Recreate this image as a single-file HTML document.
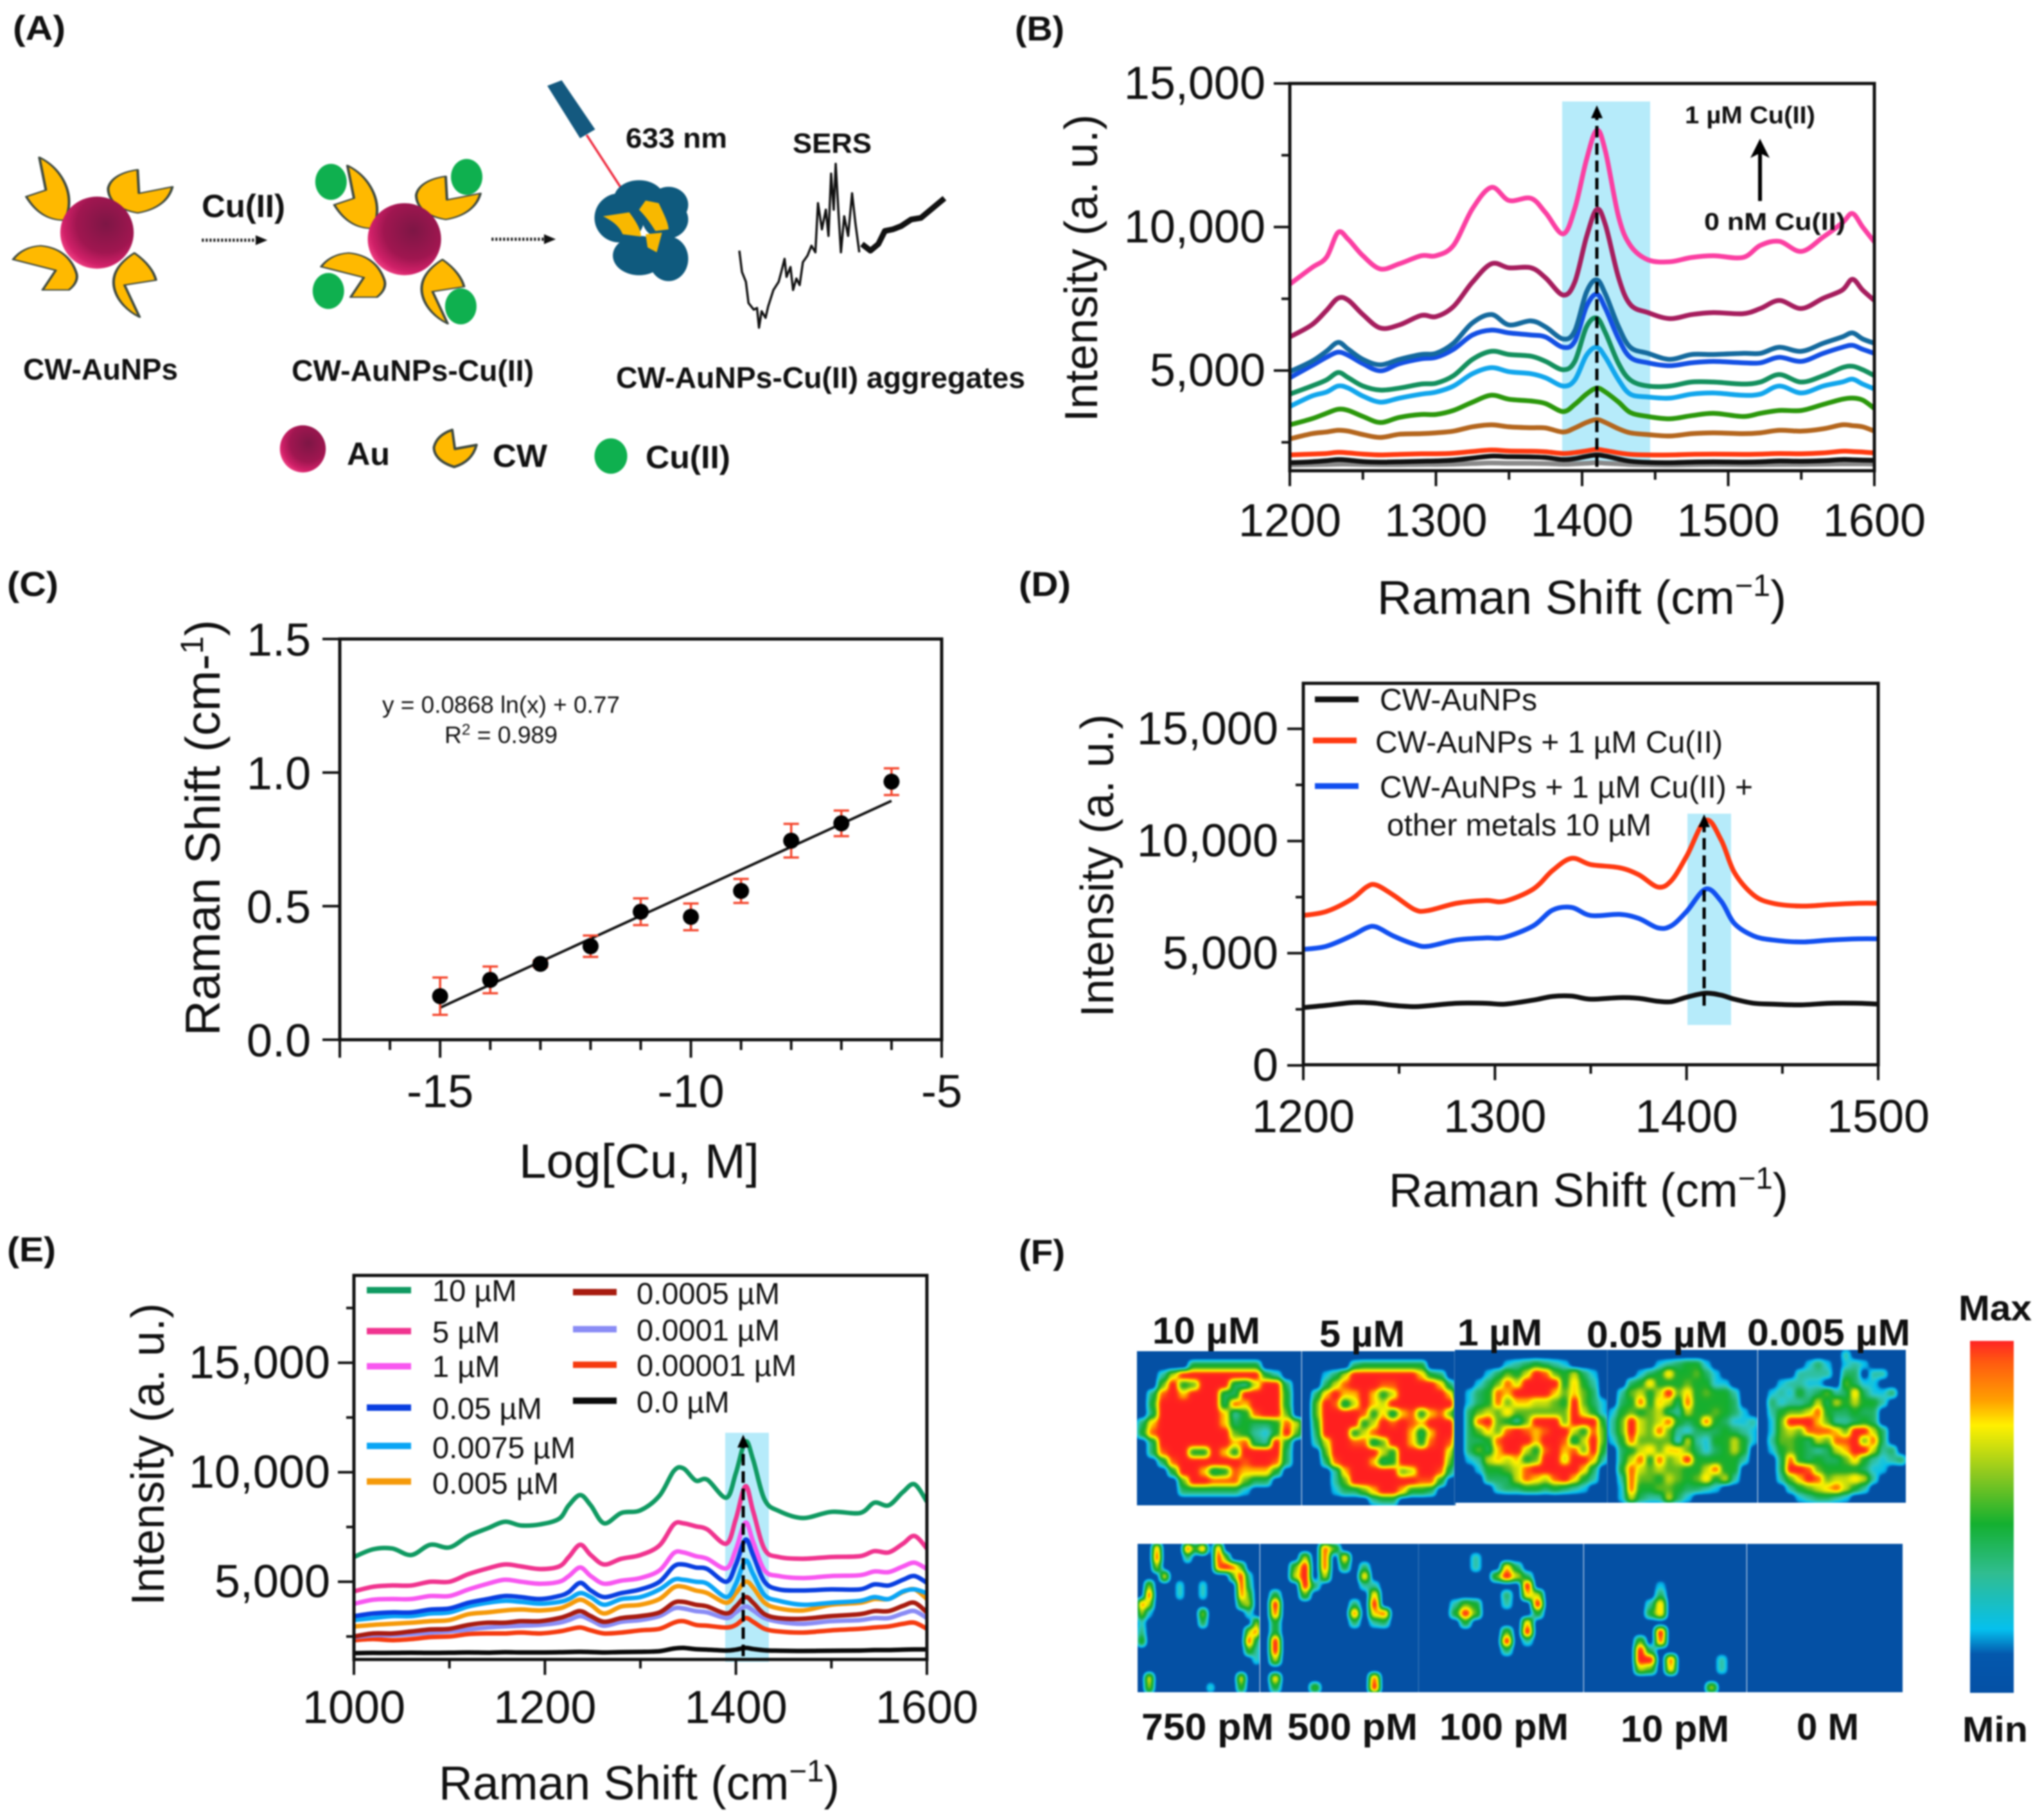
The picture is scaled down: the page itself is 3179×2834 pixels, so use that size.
<!DOCTYPE html>
<html lang="en">
<head>
<meta charset="utf-8">
<title>CW-AuNPs SERS detection of Cu(II)</title>
<style>
html,body{margin:0;padding:0;background:#fff;width:3179px;height:2834px;overflow:hidden}
svg{display:block;filter:blur(1.4px)}
text{font-family:"Liberation Sans",sans-serif;fill:#111}
.b{font-weight:bold}
.nss{vector-effect:non-scaling-stroke}
</style>
</head>
<body>
<svg id="fig" xmlns="http://www.w3.org/2000/svg" width="3179" height="2834" viewBox="0 0 3179 2834">
<defs>
<radialGradient id="au-grad" cx="0.62" cy="0.38" r="0.72">
<stop offset="0" stop-color="#7d1645"/><stop offset="0.55" stop-color="#a01650"/><stop offset="0.8" stop-color="#d02068"/><stop offset="1" stop-color="#ff4f90"/>
</radialGradient>
<linearGradient id="bar-grad" x1="0" y1="0" x2="0" y2="1">
<stop offset="0" stop-color="#ff2424"/><stop offset="0.06" stop-color="#ff5a10"/><stop offset="0.17" stop-color="#ffa000"/><stop offset="0.24" stop-color="#fff000"/>
<stop offset="0.38" stop-color="#8cc820"/><stop offset="0.52" stop-color="#14b030"/><stop offset="0.66" stop-color="#30bd90"/><stop offset="0.82" stop-color="#05c0ee"/><stop offset="0.89" stop-color="#0458ad"/><stop offset="1" stop-color="#0450a5"/>
</linearGradient>
<filter id="heat-filter" x="0" y="0" width="1" height="1" color-interpolation-filters="sRGB">
<feGaussianBlur stdDeviation="4.4"/>
<feComponentTransfer>
<feFuncR id="heat-r" type="table" tableValues="0 1"/>
<feFuncG id="heat-g" type="table" tableValues="0 1"/>
<feFuncB id="heat-b" type="table" tableValues="0 1"/>
</feComponentTransfer>
</filter>
<marker id="tip" viewBox="0 0 10 10" refX="8" refY="5" markerWidth="5" markerHeight="5" orient="auto"><path d="M0 0L10 5L0 10L2.5 5Z" fill="#000"/></marker>
<path id="pac-a" d="M60 480C90 510 108 570 105 630C104 650 100 665 97 672C70 672 52 640 40 600L70 580Z"/>
<path id="pac-b" d="M210 518L212 590L263 570C258 610 240 640 210 650C180 640 165 610 165 575C168 545 185 525 210 518Z"/>
<path id="pac-c" d="M20 792C30 765 45 752 62 750C90 755 108 785 116 830C120 850 115 870 105 885L65 885L85 825Z"/>
<path id="pac-d" d="M205 772C225 800 235 830 238 855L190 870L213 968C195 950 180 920 175 885C170 850 175 810 205 772Z"/>
</defs>

<!-- Panel A schematic -->
<g id="panel-a">
<g transform="scale(1.0204,0.5102)" stroke-linejoin="round">
<g fill="#ffb900" stroke="#3f4a40" stroke-width="4">
<use href="#pac-a" class="nss"/><use href="#pac-b"/><use href="#pac-c"/><use href="#pac-d"/>
<ellipse cx="148" cy="710" rx="56" ry="110" fill="url(#au-grad)" stroke="none"/>
</g>
<g fill="#ffb900" stroke="#3f4a40" stroke-width="4">
<g transform="translate(470,25)"><use href="#pac-a"/></g>
<g transform="translate(470,20)"><use href="#pac-b"/></g>
<g transform="translate(470,22)"><use href="#pac-c"/></g>
<g transform="translate(470,20)"><use href="#pac-d"/></g>
<ellipse cx="617" cy="730" rx="56" ry="110" fill="url(#au-grad)" stroke="none"/>
<g fill="#0fb04f" stroke="none">
<ellipse cx="505" cy="555" rx="24" ry="55"/><ellipse cx="712" cy="540" rx="24" ry="55"/><ellipse cx="501" cy="888" rx="24" ry="55"/><ellipse cx="703" cy="935" rx="24" ry="55"/>
</g>
</g>
<path class="nss" d="M308 733H395" stroke="#111" stroke-width="5" stroke-dasharray="3 3" fill="none"/>
<path d="M390 718L408 733L390 748Z" fill="#111"/>
<path class="nss" d="M750 730H835" stroke="#111" stroke-width="5" stroke-dasharray="3 3" fill="none"/>
<path d="M830 715L848 730L830 745Z" fill="#111"/>
<polygon points="835,262 857,245 908,395 885,422" fill="#14597f"/>
<path class="nss" d="M895 412L948 575" stroke="#ee2b3f" stroke-width="3.5" fill="none"/>
<g fill="#0f5a7e">
<ellipse cx="975" cy="605" rx="38" ry="55"/><ellipse cx="1020" cy="625" rx="30" ry="55"/><ellipse cx="945" cy="665" rx="38" ry="75"/><ellipse cx="1015" cy="670" rx="35" ry="60"/><ellipse cx="975" cy="780" rx="40" ry="60"/><ellipse cx="1020" cy="790" rx="30" ry="68"/>
<path d="M985 612L1005 620C1012 650 1020 680 1020 700L1000 705C992 680 985 660 975 640Z" fill="#f8b800"/>
<path d="M920 660L960 648C970 675 978 700 978 722L950 715C945 690 935 675 920 660Z" fill="#f8b800"/>
<path d="M985 715L1010 710L1002 770L988 755Z" fill="#f8b800"/>
</g>
<polyline class="nss" fill="none" stroke="#111" stroke-width="3.5" points="1128,765 1132,830 1138,860 1142,925 1150,945 1155,940 1158,1000 1162,950 1168,970 1172,935 1180,885 1188,860 1192,830 1197,790 1200,845 1206,815 1210,885 1215,850 1220,870 1225,800 1232,780 1238,750 1244,770 1248,620 1254,700 1260,640 1264,720 1268,530 1272,640 1275,500 1279,640 1283,770 1288,660 1294,720 1300,590 1305,680 1311,770"/>
<polyline class="nss" fill="none" stroke="#111" stroke-width="9" stroke-linejoin="round" points="1315,745 1328,765 1340,745 1350,705 1362,700 1375,690 1390,670 1405,665 1420,640 1441,605"/>
<ellipse cx="462" cy="1370" rx="35" ry="72" fill="url(#au-grad)"/>
<g fill="#ffb900" stroke="#3f4a40" stroke-width="4"><path class="nss" d="M690 1312L694 1370L727 1358C722 1395 710 1415 693 1425C672 1412 662 1390 662 1365C665 1340 675 1322 690 1312Z"/></g>
<ellipse cx="932" cy="1392" rx="25" ry="54" fill="#0fb04f"/>
</g>
<text class="b" x="20" y="62" font-size="54" textLength="82" lengthAdjust="spacingAndGlyphs">(A)</text>
<text class="b" x="314" y="338" font-size="50" fill="#222" textLength="130" lengthAdjust="spacingAndGlyphs">Cu(II)</text>
<text class="b" x="974" y="230" font-size="44" textLength="158" lengthAdjust="spacingAndGlyphs">633 nm</text>
<text class="b" x="1234" y="238" font-size="44" textLength="123" lengthAdjust="spacingAndGlyphs">SERS</text>
<text class="b" x="36" y="591" font-size="46" textLength="241" lengthAdjust="spacingAndGlyphs">CW-AuNPs</text>
<text class="b" x="454" y="593" font-size="46" textLength="377" lengthAdjust="spacingAndGlyphs">CW-AuNPs-Cu(II)</text>
<text class="b" x="959" y="604" font-size="46" textLength="637" lengthAdjust="spacingAndGlyphs">CW-AuNPs-Cu(II) aggregates</text>
<text class="b" x="540" y="724" font-size="50" textLength="67" lengthAdjust="spacingAndGlyphs">Au</text>
<text class="b" x="767" y="727" font-size="50" textLength="85" lengthAdjust="spacingAndGlyphs">CW</text>
<text class="b" x="1005" y="729" font-size="50" textLength="132" lengthAdjust="spacingAndGlyphs">Cu(II)</text>
</g>

<!-- Panel labels and titles -->
<text class="b" x="1580" y="63" font-size="54" textLength="77" lengthAdjust="spacingAndGlyphs">(B)</text>
<text class="b" x="11" y="928" font-size="54" textLength="80" lengthAdjust="spacingAndGlyphs">(C)</text>
<text class="b" x="1586" y="928" font-size="54" textLength="81" lengthAdjust="spacingAndGlyphs">(D)</text>
<text class="b" x="11" y="1964" font-size="54" textLength="76" lengthAdjust="spacingAndGlyphs">(E)</text>
<text class="b" x="1586" y="1968" font-size="54" textLength="72" lengthAdjust="spacingAndGlyphs">(F)</text>

<text transform="translate(1708,657) rotate(-90)" font-size="72" textLength="479" lengthAdjust="spacingAndGlyphs">Intensity (a. u.)</text>
<text x="2144" y="956" font-size="74" textLength="637" lengthAdjust="spacingAndGlyphs">Raman Shift (cm<tspan dy="-28" font-size="48">−1</tspan><tspan dy="28">)</tspan></text>
<text transform="translate(342,1613) rotate(-90)" font-size="76" textLength="648" lengthAdjust="spacingAndGlyphs">Raman  Shift (cm-<tspan dy="-26" font-size="50">1</tspan><tspan dy="26">)</tspan></text>
<text x="808" y="1834" font-size="75" textLength="374" lengthAdjust="spacingAndGlyphs">Log[Cu, M]</text>
<text x="595" y="1110" font-size="37" fill="#333" textLength="370" lengthAdjust="spacingAndGlyphs">y = 0.0868 ln(x) + 0.77</text>
<text x="692" y="1157" font-size="37" fill="#333" textLength="176" lengthAdjust="spacingAndGlyphs">R<tspan dy="-13" font-size="24">2</tspan><tspan dy="13"> = 0.989</tspan></text>
<text transform="translate(1733,1584) rotate(-90)" font-size="72" textLength="472" lengthAdjust="spacingAndGlyphs">Intensity (a. u.)</text>
<text x="2162" y="1879" font-size="74" textLength="622" lengthAdjust="spacingAndGlyphs">Raman Shift (cm<tspan dy="-28" font-size="48">−1</tspan><tspan dy="28">)</tspan></text>
<text transform="translate(255,2500) rotate(-90)" font-size="72" textLength="471" lengthAdjust="spacingAndGlyphs">Intensity (a. u.)</text>
<text x="683" y="2802" font-size="74" textLength="624" lengthAdjust="spacingAndGlyphs">Raman Shift (cm<tspan dy="-28" font-size="48">−1</tspan><tspan dy="28">)</tspan></text>

<!-- Panel B annotations -->
<g id="plot-b"></g>
<text class="b" x="2623" y="192" font-size="38" textLength="203" lengthAdjust="spacingAndGlyphs">1 µM Cu(II)</text>
<text class="b" x="2653" y="358" font-size="38" textLength="220" lengthAdjust="spacingAndGlyphs">0  nM Cu(II)</text>
<line x1="2740" y1="313" x2="2740" y2="222" stroke="#000" stroke-width="6" marker-end="url(#tip)"/>

<g id="plot-c"></g>
<g id="plot-d"></g>
<text x="2148" y="1106" font-size="48" fill="#333" textLength="245" lengthAdjust="spacingAndGlyphs">CW-AuNPs</text>
<text x="2141" y="1172" font-size="48" fill="#333" textLength="541" lengthAdjust="spacingAndGlyphs">CW-AuNPs + 1 µM Cu(II)</text>
<text x="2148" y="1242" font-size="48" fill="#333" textLength="581" lengthAdjust="spacingAndGlyphs">CW-AuNPs + 1 µM Cu(II) +</text>
<text x="2159" y="1301" font-size="48" fill="#333" textLength="412" lengthAdjust="spacingAndGlyphs">other metals 10 µM</text>

<g id="plot-e"></g>

<!-- Panel F -->
<g id="plot-f"></g>
<g class="b">
<text class="b" x="1794" y="2092" font-size="58" textLength="168" lengthAdjust="spacingAndGlyphs">10 µM</text>
<text class="b" x="2054" y="2097" font-size="58" textLength="133" lengthAdjust="spacingAndGlyphs">5 µM</text>
<text class="b" x="2269" y="2095" font-size="58" textLength="132" lengthAdjust="spacingAndGlyphs">1 µM</text>
<text class="b" x="2470" y="2098" font-size="58" textLength="220" lengthAdjust="spacingAndGlyphs">0.05 µM</text>
<text class="b" x="2720" y="2095" font-size="58" textLength="254" lengthAdjust="spacingAndGlyphs">0.005 µM</text>
</g>
<g>
<text class="b" x="1777" y="2709" font-size="58" textLength="206" lengthAdjust="spacingAndGlyphs">750 pM</text>
<text class="b" x="2004" y="2709" font-size="58" textLength="203" lengthAdjust="spacingAndGlyphs">500 pM</text>
<text class="b" x="2241" y="2709" font-size="58" textLength="201" lengthAdjust="spacingAndGlyphs">100 pM</text>
<text class="b" x="2523" y="2712" font-size="58" textLength="169" lengthAdjust="spacingAndGlyphs">10 pM</text>
<text class="b" x="2797" y="2709" font-size="58" textLength="97" lengthAdjust="spacingAndGlyphs">0 M</text>
</g>
<rect x="3067" y="2088" width="68" height="548" fill="url(#bar-grad)"/>
<text class="b" x="3049" y="2056" font-size="56" textLength="114" lengthAdjust="spacingAndGlyphs">Max</text>
<text class="b" x="3055" y="2712" font-size="56" textLength="102" lengthAdjust="spacingAndGlyphs">Min</text>
</svg>

<script>
// ===== Panel B data =====
const bX=[1200,1215,1225,1233,1240,1250,1262,1275,1290,1300,1312,1325,1338,1350,1365,1375,1387,1395,1403,1410,1416,1425,1433,1445,1460,1475,1490,1510,1522,1535,1550,1565,1578,1585,1592,1600];
const bPink=[8010,8580,8940,9810,9570,9000,8540,8720,9000,9000,9360,10640,11380,10925,11000,10500,9760,10640,12340,13370,12630,10350,9360,8860,8790,8940,9000,8940,9360,9500,9150,9650,10140,10470,10000,9480];
const bMaroon=[6170,6590,7090,7520,7450,6950,6480,6590,6920,6880,7230,8080,8720,8580,8580,8230,7630,8080,9650,10610,10070,8230,7300,7020,6810,6950,7020,6980,7160,7440,7160,7520,7800,8180,7800,7440];
const bTeal=[4960,5320,5670,5980,5740,5390,5200,5390,5560,5600,5950,6660,6950,6590,6730,6520,6100,6380,7730,8160,7660,6520,5810,5600,5390,5560,5560,5600,5600,5810,5670,5950,6170,6310,6100,5950];
const bBlue=[4750,5170,5460,5640,5530,5240,4990,5240,5410,5460,5740,6240,6410,6310,6240,6170,5810,6020,7230,7660,7160,6100,5460,5270,5170,5270,5320,5270,5270,5460,5320,5600,5810,5880,5740,5600];
const bGreen=[4180,4460,4670,4930,4750,4460,4320,4390,4530,4560,4820,5390,5670,5560,5500,5320,5030,5320,6520,6830,6310,5240,4670,4460,4460,4600,4600,4530,4600,4860,4600,4820,5100,5150,5030,4820];
const bSky=[3750,4110,4250,4460,4390,4110,3900,4040,4180,4250,4460,4890,5100,4960,4890,4750,4460,4670,5530,5810,5460,4670,4180,4080,4040,4180,4220,4140,4180,4460,4220,4460,4600,4700,4530,4360];
const bLeaf=[3110,3320,3510,3650,3610,3400,3190,3370,3470,3470,3610,3900,4140,4000,3940,3850,3570,3820,4180,4390,4250,3900,3540,3400,3320,3430,3510,3400,3510,3610,3610,3820,4000,4040,3970,3680];
const bBrown=[2620,2800,2860,2920,2890,2770,2670,2780,2800,2830,2890,3040,3110,3040,3010,3000,2860,3000,3190,3290,3190,2970,2830,2770,2720,2800,2830,2800,2830,2920,2890,2970,3110,3080,3040,2890];
const bRed=[2060,2090,2110,2150,2130,2090,2060,2080,2100,2100,2120,2180,2230,2200,2190,2170,2110,2140,2200,2250,2210,2130,2080,2060,2060,2080,2090,2080,2090,2110,2100,2130,2190,2180,2160,2130];
const bBlack=[1790,1820,1860,1900,1880,1830,1810,1820,1840,1850,1880,1950,2020,2000,1990,1970,1900,1930,2010,2060,2020,1920,1840,1800,1790,1810,1820,1810,1820,1850,1840,1860,1900,1890,1880,1870];
const bGray=[1710,1720,1730,1740,1740,1730,1720,1720,1730,1730,1740,1760,1780,1770,1770,1760,1740,1750,1770,1790,1770,1750,1730,1720,1710,1720,1730,1720,1720,1730,1730,1740,1750,1750,1750,1740];
const bXTicks=[1200,1300,1400,1500,1600];
const bYTicks=[5000,10000,15000];
const bYTickLabels=['5,000','10,000','15,000'];

// ===== Panel C data =====
const cLog=[-15,-14,-13,-12,-11,-10,-9,-8,-7,-6];
const cShift=[0.163,0.224,0.284,0.35,0.479,0.46,0.557,0.745,0.81,0.966];
const cError=[0.07,0.05,0.012,0.04,0.05,0.05,0.045,0.063,0.048,0.05];
const cFitX=[-15,-6];
const cFitY=[0.12,0.894];
const cXTicks=[-15,-10,-5];
const cYTicks=[0,0.5,1,1.5];
const cYTickLabels=['0.0','0.5','1.0','1.5'];

// ===== Panel D data =====
const dX=[1200,1212,1225,1233,1238,1247,1258,1265,1280,1295,1305,1320,1330,1340,1350,1365,1375,1385,1392,1400,1410,1418,1425,1435,1445,1460,1475,1490,1500];
const dCopper=[6680,6860,7400,7950,8040,7590,6950,6900,7225,7350,7316,7860,8680,9230,8950,8810,8500,7950,8230,9320,10920,10050,8590,7590,7225,7100,7170,7225,7225];
const dMetals=[5170,5310,5770,6130,6170,5770,5400,5310,5590,5680,5710,6220,6920,7040,6680,6730,6550,6130,6220,6860,7860,7320,6320,5770,5590,5500,5590,5640,5640];
const dControl=[2580,2675,2800,2800,2770,2675,2620,2660,2770,2770,2730,2910,3075,3090,2950,3020,2990,2860,2840,3040,3220,3130,2950,2770,2730,2700,2770,2770,2730];
const dXTicks=[1200,1300,1400,1500];
const dYTicks=[0,5000,10000,15000];
const dYTickLabels=['0','5,000','10,000','15,000'];

// ===== Panel E data =====
const eX=[1000,1020,1040,1060,1080,1100,1120,1140,1158,1175,1195,1215,1225,1237,1248,1262,1280,1300,1320,1335,1345,1358,1370,1390,1400,1410,1418,1430,1445,1470,1500,1530,1545,1560,1575,1587,1600];
const e10uM=[6130,6480,6520,6220,6690,6570,7090,7440,7740,7570,7620,7880,8490,8960,8490,7670,8140,8260,8930,10060,10180,9620,9660,8840,9970,11400,10580,8750,8230,7910,8190,8140,8610,8490,9100,9450,8660];
const e5uM=[4560,4770,4830,4830,5000,5000,5350,5610,5790,5700,5580,5700,6130,6690,6220,5790,6050,6220,6660,7620,7670,7530,7390,6740,7880,9360,8230,6480,6130,6050,6130,6170,6400,6340,6740,7090,6520];
const e1uM=[3990,4180,4210,4210,4350,4350,4650,4910,5090,5000,4910,5000,5260,5650,5260,4910,5050,5170,5520,6310,6340,6170,6050,5610,6480,7700,6830,5520,5260,5170,5260,5300,5470,5440,5700,5870,5580];
const e005uM=[3430,3550,3600,3600,3730,3780,4040,4210,4350,4300,4210,4350,4530,4950,4600,4300,4480,4650,5000,5700,5790,5650,5580,5000,5790,6920,6220,5000,4650,4600,4650,4650,4880,4830,5090,5260,4950];
const e00075uM=[3250,3340,3430,3430,3550,3600,3870,4040,4130,4080,4000,4080,4210,4480,4300,3950,4210,4300,4650,5090,5090,5000,4910,4300,4910,5960,5350,4390,4130,3950,4040,4130,4300,4210,4560,4650,4480];
const e0005uM=[2960,3030,3080,3130,3200,3250,3520,3600,3690,3730,3690,3780,3950,4180,3950,3550,3870,3950,4210,4740,4770,4600,4480,4040,4480,5000,4740,4040,3780,3690,3950,4040,4210,4210,4530,4650,4210];
const e00005uM=[2500,2640,2640,2730,2820,2850,3030,3130,3130,3200,3200,3340,3480,3660,3430,3170,3340,3430,3600,4040,4080,3950,3870,3550,3870,4300,4040,3520,3340,3310,3430,3520,3660,3660,3900,4040,3600];
const e00001uM=[2470,2560,2560,2610,2680,2730,2820,2910,2960,2990,3030,3130,3250,3430,3250,2990,3170,3250,3430,3780,3780,3660,3600,3340,3600,3870,3690,3340,3170,3080,3200,3250,3340,3340,3550,3660,3340];
const e000001uM=[2330,2380,2330,2380,2470,2500,2610,2640,2640,2680,2640,2730,2820,2910,2780,2640,2680,2780,2850,3130,3200,3030,2990,2910,3030,3340,3170,2850,2730,2680,2780,2850,2910,2960,3080,3130,2850];
const e0uM=[1740,1750,1750,1760,1750,1760,1770,1760,1780,1770,1770,1780,1790,1800,1790,1770,1790,1800,1830,1950,1980,1920,1900,1860,1900,1980,1930,1870,1850,1840,1850,1860,1880,1880,1900,1910,1910];
const eXTicks=[1000,1200,1400,1600];
const eYTicks=[5000,10000,15000];
const eYTickLabels=['5,000','10,000','15,000'];
const eLegendLeft=['10 µM','5 µM','1 µM','0.05 µM','0.0075 µM','0.005 µM'];
const eLegendRight=['0.0005 µM','0.0001 µM','0.00001 µM','0.0 µM'];

// ===== Panel F data (intensity level 0-9 per map cell) =====
const heat10uM=["0000000000000000","0000044444440000","0026999999994200","0059459993269930","0389799933999940","0499999938799940","0399999972489950","3799999973433486","4899999995421495","0399999997832940","0389944974999930","0038999999899830","0004997348777400","0000599888533000","0000333333100000","0000000000000000"];
const heat5uM=["0000000000000000","0000034444444000","0013699999997430","0036899988999973","0379779746999997","0598369769999999","0599998473784785","0499994698987999","0399946899973799","0269988359974898","0059999964999996","0038999734999995","0002799999569983","0002599999998840","0001335799744300","0000000233000000"];
const heat1uM=["0000000000000000","0000012343210000","0001354698546310","0013586999947420","0134879999757530","0134857766549531","0356575555559641","0389542599959994","0357589878996485","0334899979983695","0353799648978594","0126767459969972","0014456899999730","0003336876897420","0000233443432100","0000000000000000"];
const heat005uM=["0000000000000000","0000012344100000","0001347445310000","0034744454411000","0256469574544200","0348476384444300","1454563264454310","2596568434843112","2596585213334321","1485555162144641","0346757753134640","0368485694444420","0486565544684400","0285546545746200","0184455433210000","0163226310000000"];
const heat0005uM=["0000000002000000","0000013101210000","0000222203302200","0012211005311000","0121423523731130","0312236364644200","0245568433433000","0159997522343000","0156588875996300","0255436588958300","0145432367996230","0038434335742123","0039985444431100","0025798566762000","0002456786420000","0000123321000000"];
const heat750pM=["0080009480800000","0090003000950000","0060000000898500","0007000000005920","0600020020000930","0900020020000850","8600000000000560","6100000060000020","2000000040000006","3000000000000068","5000000000000093","0000000000000052","0000000000000002","0000000000000000","0700000000000700","0600000002000500"];
const heat500pM=["0000008500000000","0000608070000000","0005908040300000","0006906000700000","0000930000220000","0400500000070000","0900000003090000","0800000008078000","0400000003023000","0400000000000000","0900000000000000","0900000000000000","0600000000000000","0000000000000000","0700000000080000","0400050000090000"];
const heat100pM=["0000000000000000","0000020000000000","0000020073000000","0000000596300000","0000000000900000","0000000030760000","0002540020090000","0004950000040000","0000400000700000","0000000050900000","0000000090200000","0000000030000000","0000000000000000","0000000000000000","0000000000000000","0000000000000000"];
const heat10pM=["0000000000000000","0000000000000000","0000000000000000","0000000000000000","0000000100000000","0000000300000000","0000002700000000","0000004700000000","0000000000000000","0000000900000000","0000050800000000","0000093000000000","0000099080000200","0000065070000200","0000000000000000","0000000000006000"];
const heat0M=["0000000000000000","0000000000000000","0000000000000000","0000000000000000","0000000000000000","0000000000000000","0000000000000000","0000000000000000","0000000000000000","0000000000000000","0000000000000000","0000000000000000","0000000000000000","0000000000000000","0000000000000000","0000000000000000"];

const NS='http://www.w3.org/2000/svg';
function mk(tag,attrs,parent){const el=document.createElementNS(NS,tag);for(const k in attrs)el.setAttribute(k,attrs[k]);parent.appendChild(el);return el;}
function linear(d0,d1,r0,r1){return v=>r0+(v-d0)/(d1-d0)*(r1-r0);}
function smoothPath(pts){let d='M'+pts[0][0].toFixed(1)+' '+pts[0][1].toFixed(1);for(let i=0;i<pts.length-1;i++){const p0=pts[Math.max(0,i-1)],p1=pts[i],p2=pts[i+1],p3=pts[Math.min(pts.length-1,i+2)];const k=1/6;d+='C'+(p1[0]+(p2[0]-p0[0])*k).toFixed(1)+' '+(p1[1]+(p2[1]-p0[1])*k).toFixed(1)+' '+(p2[0]-(p3[0]-p1[0])*k).toFixed(1)+' '+(p2[1]-(p3[1]-p1[1])*k).toFixed(1)+' '+p2[0].toFixed(1)+' '+p2[1].toFixed(1);}return d;}

function frame(p,x0,y0,x1,y1,sw){
  const r=mk('rect',{x:x0,y:y0,width:x1-x0,height:y1-y0,fill:'none',stroke:'#111','stroke-width':sw},p);
  
  
}
function xTick(p,x,y,len){
  const l=mk('line',{x1:x,x2:x,y1:y,y2:y+len,stroke:'#111','stroke-width':4},p);
  
  
}
function yTick(p,x,y,len){
  const l=mk('line',{x1:x-len,x2:x,y1:y,y2:y,stroke:'#111','stroke-width':4},p);
  
  
}
function xLabel(p,x,y,s){
  const t=mk('text',{x:x,y:y,'text-anchor':'middle','font-size':72},p);
  t.textContent=s;
  
  
}
function yLabel(p,x,y,s){
  const t=mk('text',{x:x,y:y,'text-anchor':'end','font-size':72},p);
  t.textContent=s;
  
  
}
function curve(p,xs,ys,sx,sy,color,w,name){
  const pts=xs.map((v,i)=>[sx(v),sy(ys[i])]);
  const c=mk('path',{d:smoothPath(pts),fill:'none',stroke:color,'stroke-width':w,'stroke-linejoin':'round','stroke-linecap':'butt'},p);
  
  
}
function band(p,x,y,w,h){
  const r=mk('rect',{x:x,y:y,width:w,height:h,fill:'#b6ebfa'},p);
  
  
}
function dashedArrow(p,x,y0,y1){
  const l=mk('line',{x1:x,x2:x,y1:y0,y2:y1,stroke:'#000','stroke-width':5,'stroke-dasharray':'18 9'},p);
  
  
  const h=mk('path',{d:'M'+(x-9)+' '+(y1+14)+'L'+x+' '+(y1-6)+'L'+(x+9)+' '+(y1+14)+'Z',fill:'#000'},p);
  
  
}

// ----- Panel B -----
(function(){
  const p=document.getElementById('plot-b');
  const sx=linear(1200,1600,2008,2918), sy=linear(1510,15000,733,130);
  band(p,2432,158,137,566);
  const series=[[bGray,'#8a8a8a','b-series-gray'],[bBlack,'#111','b-series-black'],[bRed,'#ff3a10','b-series-red'],[bBrown,'#b4661e','b-series-brown'],[bLeaf,'#2c980c','b-series-dark-green'],[bSky,'#12a6ec','b-series-sky-blue'],[bGreen,'#14905e','b-series-green'],[bBlue,'#1450e4','b-series-blue'],[bTeal,'#156a9e','b-series-teal'],[bMaroon,'#a61e5e','b-series-maroon'],[bPink,'#fb3fa2','b-series-pink']];
  series.forEach(s=>curve(p,bX,s[0],sx,sy,s[1],7.5,s[2]));
  dashedArrow(p,2486,727,170);
  frame(p,2008,130,2918,733,5);
  for(let v=1200;v<=1600;v+=50)xTick(p,sx(v),733,(v%100===0)?24:14);
  bXTicks.forEach(v=>xLabel(p,sx(v),835,String(v)));
  bYTicks.forEach((v,i)=>{yTick(p,2008,sy(v),25);yLabel(p,1970,sy(v)+24,bYTickLabels[i]);});
  [2500,7500,12500].forEach(v=>yTick(p,2008,sy(v),13));
})();

// ----- Panel C -----
(function(){
  const p=document.getElementById('plot-c');
  const sx=linear(-17,-5,529,1466), sy=linear(0,1.5,1619,995);
  frame(p,529,995,1466,1619,5);
  for(let v=-17;v<=-5;v++)xTick(p,sx(v),1619,(v%5===0||v===-17)?28:16);
  cXTicks.forEach(v=>xLabel(p,sx(v),1724,String(v)));
  cYTicks.forEach((v,i)=>{yTick(p,529,sy(v),27);yLabel(p,484,sy(v)+26,cYTickLabels[i]);});
  const fit=mk('line',{x1:sx(cFitX[0]),y1:sy(cFitY[0]),x2:sx(cFitX[1]),y2:sy(cFitY[1]),stroke:'#111','stroke-width':4},p);
  
  
  cLog.forEach((v,i)=>{
    const x=sx(v),y0=sy(cShift[i]-cError[i]),y1=sy(cShift[i]+cError[i]);
    const e=mk('path',{d:'M'+(x-12)+' '+y0+'H'+(x+12)+'M'+x+' '+y0+'V'+y1+'M'+(x-12)+' '+y1+'H'+(x+12),stroke:'#f4472e','stroke-width':3.5,fill:'none'},p);
    
    
    const d=mk('circle',{cx:x,cy:sy(cShift[i]),r:12.5,fill:'#000'},p);
    
    
  });
})();

// ----- Panel D -----
(function(){
  const p=document.getElementById('plot-d');
  const sx=linear(1200,1500,2029,2924), sy=linear(0,17000,1659,1065);
  band(p,2627,1267,68,329);
  curve(p,dX,dControl,sx,sy,'#111',7.5,'d-series-control');
  curve(p,dX,dMetals,sx,sy,'#1250f0',7.5,'d-series-other-metals');
  curve(p,dX,dCopper,sx,sy,'#ff3a12',7.5,'d-series-copper');
  dashedArrow(p,2653,1566,1274);
  frame(p,2029,1064,2924,1658,5);
  for(let v=1200;v<=1500;v+=50)xTick(p,sx(v),1658,(v%100===0)?24:14);
  dXTicks.forEach(v=>xLabel(p,sx(v),1763,String(v)));
  dYTicks.forEach((v,i)=>{yTick(p,2029,sy(v),25);yLabel(p,1990,sy(v)+24,dYTickLabels[i]);});
  [2500,7500,12500].forEach(v=>yTick(p,2029,sy(v),12));
  const keyColors=['#111','#ff3a12','#1250f0'];
  const keyY=[1089,1153,1224];
  const keyX=[2047,2044,2047];
  keyColors.forEach((c,i)=>{
    const k=mk('line',{x1:keyX[i],x2:keyX[i]+68,y1:keyY[i],y2:keyY[i],stroke:c,'stroke-width':9},p);
    
    
  });
})();

// ----- Panel E -----
(function(){
  const p=document.getElementById('plot-e');
  const sx=linear(1000,1600,551,1443), sy=linear(5000,15000,2463,2122);
  band(p,1129,2231,68,357);
  const colors=['#0a0a0a','#f53b10','#8a8cf5','#a81c10','#f59a0a','#0aa5f5','#0a3fe0','#f857f0','#f0348f','#109a62'];
  const values=[e0uM,e000001uM,e00001uM,e00005uM,e0005uM,e00075uM,e005uM,e1uM,e5uM,e10uM];
  const names=['e-series-0um','e-series-0-00001um','e-series-0-0001um','e-series-0-0005um','e-series-0-005um','e-series-0-0075um','e-series-0-05um','e-series-1um','e-series-5um','e-series-10um'];
  values.forEach((v,i)=>curve(p,eX,v,sx,sy,colors[i],7,names[i]));
  dashedArrow(p,1157,2579,2240);
  frame(p,551,1986,1443,2584,5);
  for(let v=1000;v<=1600;v+=100)xTick(p,sx(v),2584,(v%200===0)?24:14);
  eXTicks.forEach(v=>xLabel(p,sx(v),2683,String(v)));
  eYTicks.forEach((v,i)=>{yTick(p,551,sy(v),25);yLabel(p,514,sy(v)+24,eYTickLabels[i]);});
  [2500,7500,12500,17500].forEach(v=>yTick(p,551,sy(v),12));
  const leftColors=['#109a62','#f0348f','#f857f0','#0a3fe0','#0aa5f5','#f59a0a'];
  const leftLineY=[183,290,382,490,590,683];
  const leftTextY=[185,293,383,493,595,688];
  eLegendLeft.forEach((s,i)=>{
    const l=mk('line',{x1:571,x2:640,y1:1900+leftLineY[i]*0.5957,y2:1900+leftLineY[i]*0.5957,stroke:leftColors[i],'stroke-width':10},p);
    
    
    const t=mk('text',{x:673,y:1900+leftTextY[i]*0.5957+16,'font-size':47,fill:'#333'},p);
    t.textContent=s;
    
    
  });
  const rightColors=['#a81c10','#8a8cf5','#f53b10','#0a0a0a'];
  const rightLineY=[188,285,378,472];
  const rightTextY=[192,288,380,476];
  eLegendRight.forEach((s,i)=>{
    const l=mk('line',{x1:892,x2:960,y1:1900+rightLineY[i]*0.5957,y2:1900+rightLineY[i]*0.5957,stroke:rightColors[i],'stroke-width':10},p);
    
    
    const t=mk('text',{x:991,y:1900+rightTextY[i]*0.5957+16,'font-size':47,fill:'#333'},p);
    t.textContent=s;
    
    
  });
})();

// ----- Panel F -----
(function(){
  const stops=['0450a5','0450a5','0458ad','0598d8','05c0ee','2cc8c8','30c0a0','28b878','1cb050','14b030','28b028','55b820','88c818','b8d810','e0e805','fff000','ffb800','ff8800','ff5510','ff3018','ff2020'];
  const chan=o=>stops.map(h=>(parseInt(h.substr(o,2),16)/255).toFixed(3)).join(' ');
  document.getElementById('heat-r').setAttribute('tableValues',chan(0));
  document.getElementById('heat-g').setAttribute('tableValues',chan(2));
  document.getElementById('heat-b').setAttribute('tableValues',chan(4));
  const levelShade=[0,0.22,0.3,0.38,0.46,0.56,0.67,0.79,0.9,1];
  const p=document.getElementById('plot-f');
  const defs=document.querySelector('defs');
  const maps=[heat10uM,heat5uM,heat1uM,heat005uM,heat0005uM,heat750pM,heat500pM,heat100pM,heat10pM,heat0M];
  const mapNames=['heatmap-10um','heatmap-5um','heatmap-1um','heatmap-0-05um','heatmap-0-005um','heatmap-750pm','heatmap-500pm','heatmap-100pm','heatmap-10pm','heatmap-0m'];
  const lefts=[1770,2027,2265,2503,2737,1771,1962,2209,2466,2720];
  const rights=[2027,2265,2503,2737,2967,1962,2209,2466,2720,2962];
  const tops=[2104,2104,2102,2102,2102,2404,2404,2404,2404,2404];
  const bottoms=[2344,2344,2340,2340,2340,2635,2635,2635,2635,2635];
  maps.forEach((grid,m)=>{
    const x0=lefts[m],x1=rights[m],y0=tops[m],y1=bottoms[m];
    const cw=(x1-x0)/16,ch=(y1-y0)/16;
    const cp=mk('clipPath',{id:'clip-'+m},defs);
    mk('rect',{x:x0,y:y0,width:x1-x0,height:y1-y0},cp);
    const outer=mk('g',{'clip-path':'url(#clip-'+m+')'},p);
    
    
    const g=mk('g',{filter:'url(#heat-filter)'},outer);
    const bg=mk('rect',{x:x0-20,y:y0-20,width:x1-x0+40,height:y1-y0+40,fill:'#000'},g);
    
    
    grid.forEach((row,r)=>{
      for(let c=0;c<row.length;c++){
        const lv=+row[c];
        if(!lv)continue;
        const g8=Math.round(levelShade[lv]*255);
        const cell=mk('rect',{x:x0+c*cw,y:y0+r*ch,width:cw+0.5,height:ch+0.5,fill:'rgb('+g8+','+g8+','+g8+')'},g);
        
        
      }
    });
    if(m!==4&&m!==9){
      const sep=mk('line',{x1:x1,x2:x1,y1:y0,y2:y1,stroke:(m===1||m===2||m===6)?'#3a78b8':'#c4d6ec','stroke-width':2.5},p);
      
      
    }
  });
})();
</script>
</body>
</html>
